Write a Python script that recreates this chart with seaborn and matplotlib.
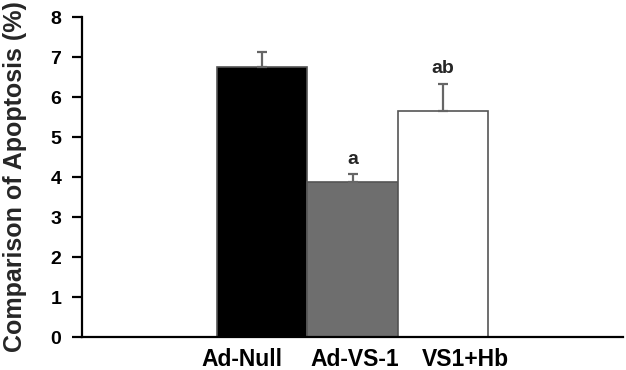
import matplotlib
matplotlib.use("Agg")
import matplotlib.pyplot as plt
import matplotlib.transforms as mtransforms
import seaborn as sns
import pandas as pd
import numpy as np

categories = ["Ad-Null", "Ad-VS-1", "VS1+Hb"]
values = [6.75, 3.88, 5.65]
errors = [0.38, 0.20, 0.68]
letters = ["", "a", "ab"]
letter_y = [0, 4.45, 6.72]
yticks = [0, 1, 2, 3, 4, 5, 6, 7, 8]

sns.set_theme(style="white")
plt.rcParams['font.family'] = ['Liberation Sans', 'DejaVu Sans']
plt.rcParams['font.weight'] = 'bold'

df = pd.DataFrame({"group": categories, "value": values})
colors = ["#000000", "#6e6e6e", "#ffffff"]

fig = plt.figure(figsize=(6.26, 3.70), dpi=100)
ax = fig.add_axes([82/626, 33/370, (623-82)/626, (337-17)/370])

sns.barplot(data=df, x="group", y="value", hue="group", palette=colors,
            width=1.0, legend=False, ax=ax, errorbar=None,
            edgecolor="#555555", linewidth=1.2)

ax.errorbar(x=np.arange(len(categories)), y=values,
            yerr=[np.zeros(len(errors)), errors], fmt="none",
            ecolor="#666666", elinewidth=1.6, capsize=3.5, capthick=1.6, zorder=1)

for i, (t, yy) in enumerate(zip(letters, letter_y)):
    if t:
        ax.text(i, yy, t, ha="center", va="center", fontsize=14, fontweight="bold")

ax.set_xlim(-2.0, 4.0)
ax.set_ylim(0, 8)
ax.set_yticks(yticks)
ax.set_xlabel("")
ax.set_ylabel("Comparison of Apoptosis (%)", fontsize=18, fontweight="bold", labelpad=17)

for s in ["top", "right"]:
    ax.spines[s].set_visible(False)
for s in ["left", "bottom"]:
    ax.spines[s].set_color("black")
    ax.spines[s].set_linewidth(1.6)

ax.tick_params(axis="y", left=True, length=7, width=1.6, color="black",
               labelsize=14, pad=8)
ax.tick_params(axis="x", bottom=False, length=0, labelsize=16.5, pad=8)
for lab in ax.get_xticklabels() + ax.get_yticklabels():
    lab.set_fontweight("bold")
    lab.set_color("black")

# the reference's category labels sit slightly off the bar centres
label_shift_px = [-20, 2, 23]
for lab, dx in zip(ax.get_xticklabels(), label_shift_px):
    lab.set_transform(lab.get_transform() +
                      mtransforms.ScaledTranslation(dx / 100, 0, fig.dpi_scale_trans))

fig.savefig("out.png", dpi=100)
